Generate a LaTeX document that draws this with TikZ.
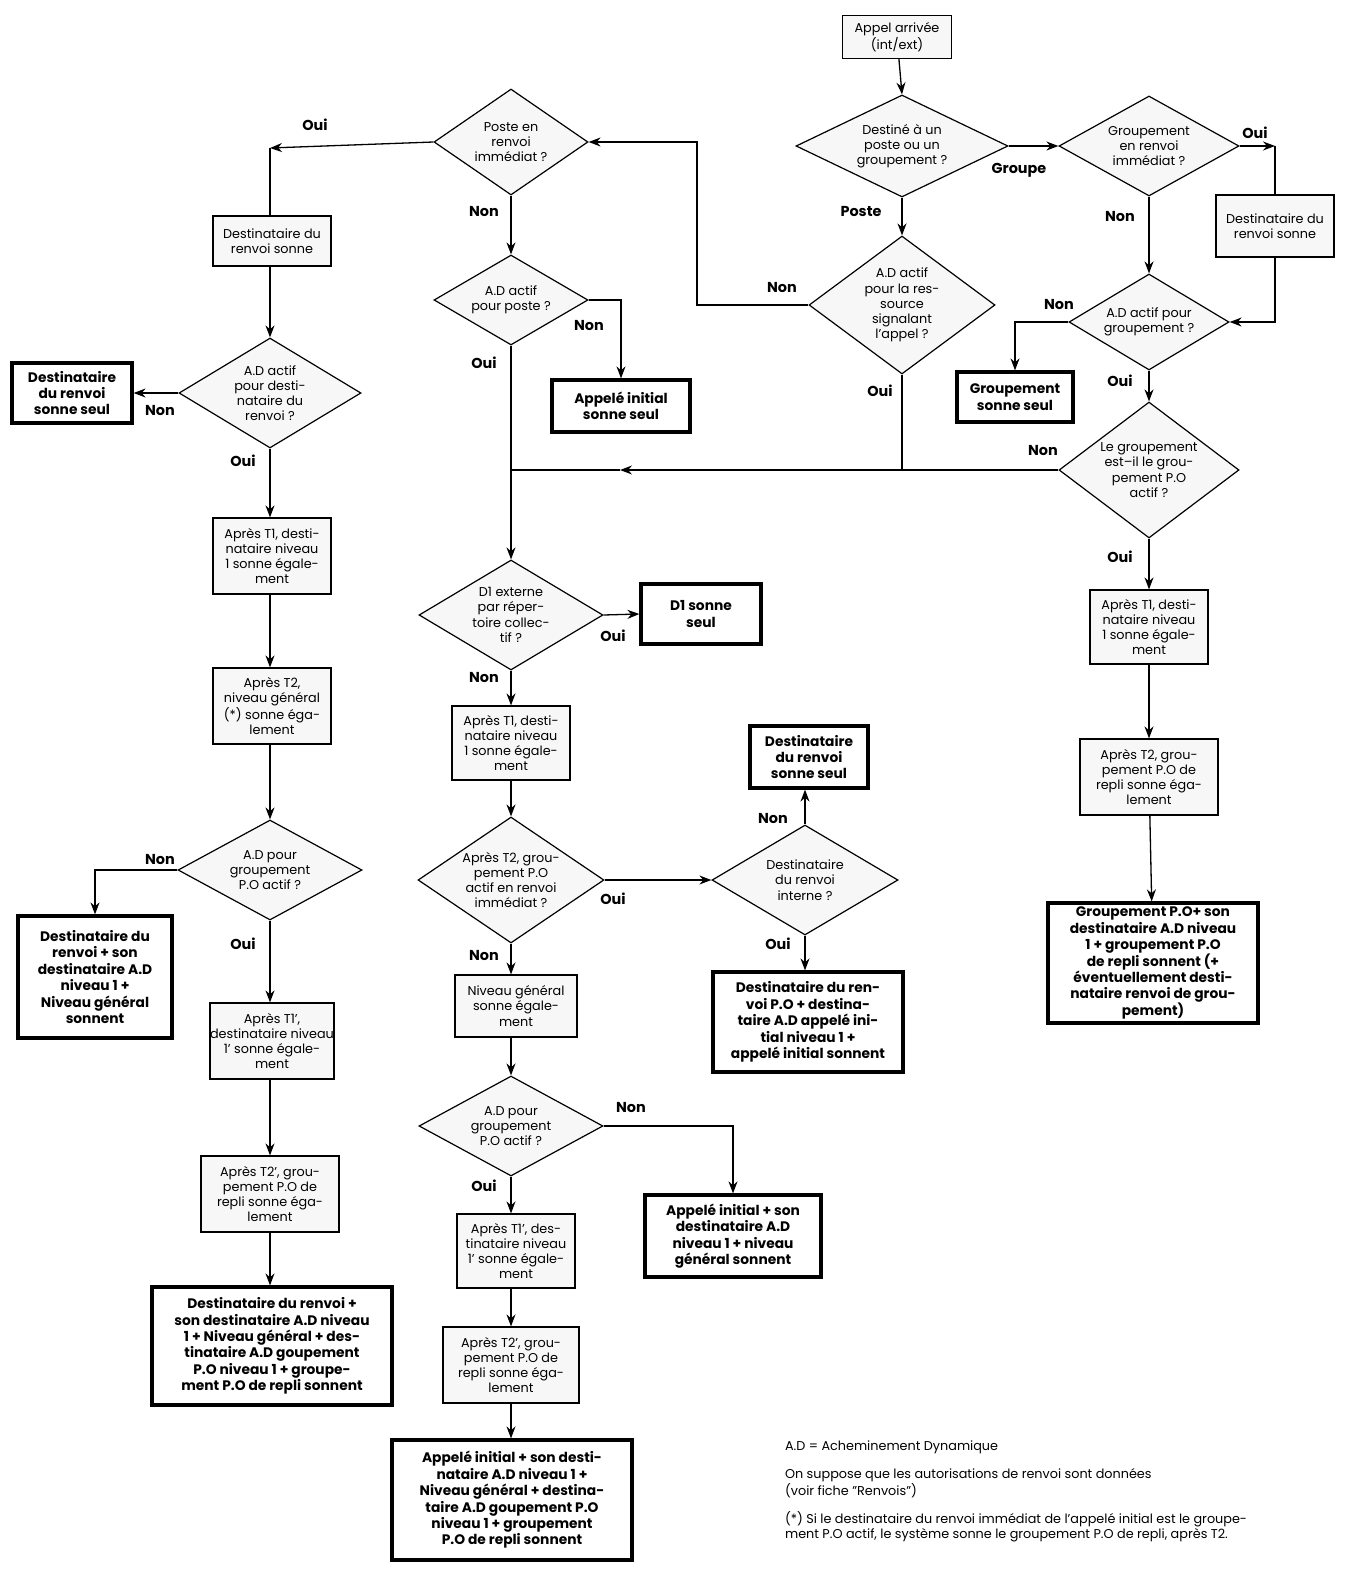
\documentclass[tikz,border=0pt]{standalone}
\usepackage{fontspec}
\setmainfont{Poppins}
\usetikzlibrary{shapes.geometric,arrows.meta}
\newcommand\B[6]{\node[#1,minimum width={#4*0.5pt},minimum height={#5*0.5pt}] (#2) at (#3) {#6};}
\newcommand\D[5]{\node[dia,minimum width={#3*0.5pt},minimum height={#4*0.5pt}] (#1) at (#2) {}; \node[txt] (#1t) at (#2) {#5};}
\begin{document}
\begin{tikzpicture}[x=0.5pt,y=-0.5pt,
 every node/.style={font=\fontsize{6.4}{7.6}\selectfont},
 box/.style={draw,fill=gray!6,line width=0.6pt,inner sep=0pt,align=center},
 bold/.style={draw,fill=white,line width=1.6pt,inner sep=0pt,align=center,font=\bfseries\fontsize{6.9}{8.2}\selectfont},
 dia/.style={draw,fill=gray!6,diamond,line width=0.6pt,inner sep=0pt},
 txt/.style={align=center},
 lab/.style={font=\bfseries\fontsize{7.2}{8}\selectfont},
 ar/.style={-{Stealth[length=6pt,width=4.5pt]},line width=0.65pt},
 ln/.style={line width=0.65pt}]
\useasboundingbox (0,0) rectangle (1365,1584);
% right / top
\B{box}{ap0}{897,37}{109}{43}{Appel arrivée\\(int/ext)}
\D{d1}{902,146}{212}{102}{Destiné à un\\poste ou un\\groupement ?}
\D{g1}{1149,146}{180}{100}{Groupement\\en renvoi\\immédiat ?}
\B{box}{rb}{1275,226}{118}{62}{Destinataire du\\renvoi sonne}
\D{ag}{1149,322}{160}{96}{A.D actif pour\\groupement ?}
\B{bold}{gs}{1015,397}{116}{50}{Groupement\\sonne seul}
\D{rs}{902,305}{186}{138}{A.D actif\\pour la res-\\source\\signalant\\l'appel ?}
\D{lg}{1149,470}{180}{136}{Le groupement\\est--il le grou-\\pement P.O\\actif ?}
\B{box}{rt1}{1149,627}{118}{74}{Après T1, desti-\\nataire niveau\\1 sonne égale-\\ment}
\B{box}{rt2}{1149,777}{138}{76}{Après T2, grou-\\pement P.O de\\repli sonne éga-\\lement}
\B{bold}{rf}{1153,963}{210}{120}{Groupement P.O+ son\\destinataire A.D niveau\\1 + groupement P.O\\de repli sonnent (+\\éventuellement desti-\\nataire renvoi de grou-\\pement)}
% middle
\D{pr}{511,142}{154}{106}{Poste en\\renvoi\\immédiat ?}
\D{ap}{511,300}{154}{90}{A.D actif\\pour poste ?}
\B{bold}{ai}{621,406}{138}{52}{Appelé initial\\sonne seul}
\coordinate (J) at (511,470);
\coordinate (Jm) at (620,470);
\D{dx}{511,615}{184}{110}{D1 externe\\par réper-\\toire collec-\\tif ?}
\B{bold}{ds}{701,614}{120}{60}{D1 sonne\\seul}
\B{box}{mt1}{511,743}{118}{74}{Après T1, desti-\\nataire niveau\\1 sonne égale-\\ment}
\D{mt2}{511,880}{186}{126}{Après T2, grou-\\pement P.O\\actif en renvoi\\immédiat ?}
\D{di}{805,880}{186}{110}{Destinataire\\du renvoi\\interne ?}
\B{bold}{dss}{809,757}{118}{62}{Destinataire\\du renvoi\\sonne seul}
\B{bold}{dpo}{808,1022}{190}{100}{Destinataire du ren-\\voi P.O + destina-\\taire A.D appelé ini-\\tial niveau 1 +\\appelé initial sonnent}
\B{box}{ng}{516,1006}{122}{62}{Niveau général\\sonne égale-\\ment}
\D{dg}{511,1126}{184}{100}{A.D pour\\groupement\\P.O actif ?}
\B{bold}{ab}{733,1236}{176}{82}{Appelé initial + son\\destinataire A.D\\niveau 1 + niveau\\général sonnent}
\B{box}{mt3}{516,1251}{118}{74}{Après T1', des-\\tinataire niveau\\1' sonne égale-\\ment}
\B{box}{mt4}{511,1365}{136}{76}{Après T2', grou-\\pement P.O de\\repli sonne éga-\\lement}
\B{bold}{mf}{512,1500}{240}{120}{Appelé initial + son desti-\\nataire A.D niveau 1 +\\Niveau général + destina-\\taire A.D goupement P.O\\niveau 1 + groupement\\P.O de repli sonnent}
% left
\coordinate (L1) at (270,148);
\B{box}{lb}{272,241}{118}{50}{Destinataire du\\renvoi sonne}
\D{la}{270,393}{182}{110}{A.D actif\\pour desti-\\nataire du\\renvoi ?}
\B{bold}{ls}{72,393}{120}{60}{Destinataire\\du renvoi\\sonne seul}
\B{box}{lt1}{272,556}{118}{76}{Après T1, desti-\\nataire niveau\\1 sonne égale-\\ment}
\B{box}{lt2}{272,706}{118}{76}{Après T2,\\niveau général\\(*) sonne éga-\\lement}
\D{lg2}{270,870}{184}{100}{A.D pour\\groupement\\P.O actif ?}
\B{bold}{lb2}{95,977}{154}{122}{Destinataire du\\renvoi + son\\destinataire A.D\\niveau 1 +\\Niveau général\\sonnent}
\B{box}{lt3}{272,1041}{118}{76}{Après T1',\\destinataire niveau\\1' sonne égale-\\ment}
\B{box}{lt4}{270,1194}{138}{76}{Après T2', grou-\\pement P.O de\\repli sonne éga-\\lement}
\B{bold}{lf}{272,1346}{240}{118}{Destinataire du renvoi +\\son destinataire A.D niveau\\1 + Niveau général + des-\\tinataire A.D goupement\\P.O niveau 1 + groupe-\\ment P.O de repli sonnent}
% edges right
\draw[ar] (ap0) -- (d1.north);
\draw[ar] (d1.east) -- (g1.west);
\draw[ar] (d1.south) -- (rs.north);
\coordinate (R1) at (1275,146);
\draw[ar] (g1.east) -- (R1);
\draw[ln] (R1) -- (rb.north);
\draw[ar] (rb.south) |- (ag.east);
\draw[ar] (g1.south) -- (ag.north);
\draw[ar] (ag.west) -| (gs.north);
\draw[ar] (ag.south) -- (lg.north);
\coordinate (K) at (697,200);
\draw[ar] (rs.west) -| (K) |- (pr.east);
\draw[ln] (rs.south) -- (rs.south |- J);
\draw[ar] (lg.west) -- (Jm);
\draw[ln] (Jm) -- (J);
\draw[ar] (lg.south) -- (rt1.north);
\draw[ar] (rt1) -- (rt2);
\draw[ar] (rt2) -- (rf);
% edges middle
\draw[ar] (pr.south) -- (ap.north);
\draw[ar] (ap.east) -| (ai.north);
\draw[ar] (ap.south) -- (dx.north);
\draw[ar] (dx.east) -- (ds.west);
\draw[ar] (dx.south) -- (mt1.north -| dx.south);
\draw[ar] (mt1) -- (mt2.north);
\draw[ar] (mt2.east) -- (di.west);
\draw[ar] (di.north) -- (dss.south -| di.north);
\draw[ar] (di.south) -- (dpo.north -| di.south);
\draw[ar] (mt2.south) -- (ng.north -| mt2.south);
\draw[ar] (ng.south -| dg.north) -- (dg.north);
\draw[ar] (dg.east) -| (ab.north);
\draw[ar] (dg.south) -- (mt3.north -| dg.south);
\draw[ar] (mt3.south -| mt4.north) -- (mt4.north);
\draw[ar] (mt4.south) -- (mf.north -| mt4.south);
% edges left
\draw[ar] (pr.west) -- (L1);
\draw[ln] (L1) -- (lb.north -| L1);
\draw[ar] (lb.south -| la.north) -- (la.north);
\draw[ar] (la.west) -- (ls.east);
\draw[ar] (la.south) -- (lt1.north -| la.south);
\draw[ar] (lt1.south -| la.south) -- (lt2.north -| la.south);
\draw[ar] (lt2.south -| lg2.north) -- (lg2.north);
\draw[ar] (lg2.west) -| (lb2.north);
\draw[ar] (lg2.south) -- (lt3.north -| lg2.south);
\draw[ar] (lt3.south -| lt4.north) -- (lt4.north);
\draw[ar] (lt4.south) -- (lf.north -| lt4.south);
% labels
\node[lab] (l1) at (1019,170) {Groupe};
\node[lab] (l2) at (861,212) {Poste};
\node[lab] (l3) at (1255,133) {Oui};
\node[lab] (l4) at (1120,217) {Non};
\node[lab] (l5) at (1059,305) {Non};
\node[lab] (l6) at (1120,381) {Oui};
\node[lab] (l7) at (782,288) {Non};
\node[lab] (l8) at (880,391) {Oui};
\node[lab] (l9) at (1043,450) {Non};
\node[lab] (l10) at (1120,557) {Oui};
\node[lab] (l11) at (315,125) {Oui};
\node[lab] (l12) at (484,212) {Non};
\node[lab] (l13) at (589,326) {Non};
\node[lab] (l14) at (484,363) {Oui};
\node[lab] (l15) at (613,636) {Oui};
\node[lab] (l16) at (484,677) {Non};
\node[lab] (l17) at (613,899) {Oui};
\node[lab] (l18) at (773,818) {Non};
\node[lab] (l19) at (778,944) {Oui};
\node[lab] (l20) at (484,955) {Non};
\node[lab] (l21) at (631,1107) {Non};
\node[lab] (l22) at (484,1186) {Oui};
\node[lab] (l23) at (160,410) {Non};
\node[lab] (l24) at (243,461) {Oui};
\node[lab] (l25) at (160,859) {Non};
\node[lab] (l26) at (243,944) {Oui};
% notes
\node[anchor=west,align=left] (n1) at (778,1447) {A.D = Acheminement Dynamique};
\node[anchor=west,align=left] (n2) at (778,1483) {On suppose que les autorisations de renvoi sont données\\(voir fiche ''Renvois'')};
\node[anchor=west,align=left] (n3) at (778,1527) {(*) Si le destinataire du renvoi immédiat de l'appelé initial est le groupe-\\ment P.O actif, le système sonne le groupement P.O de repli, après T2.};
\end{tikzpicture}
\end{document}
